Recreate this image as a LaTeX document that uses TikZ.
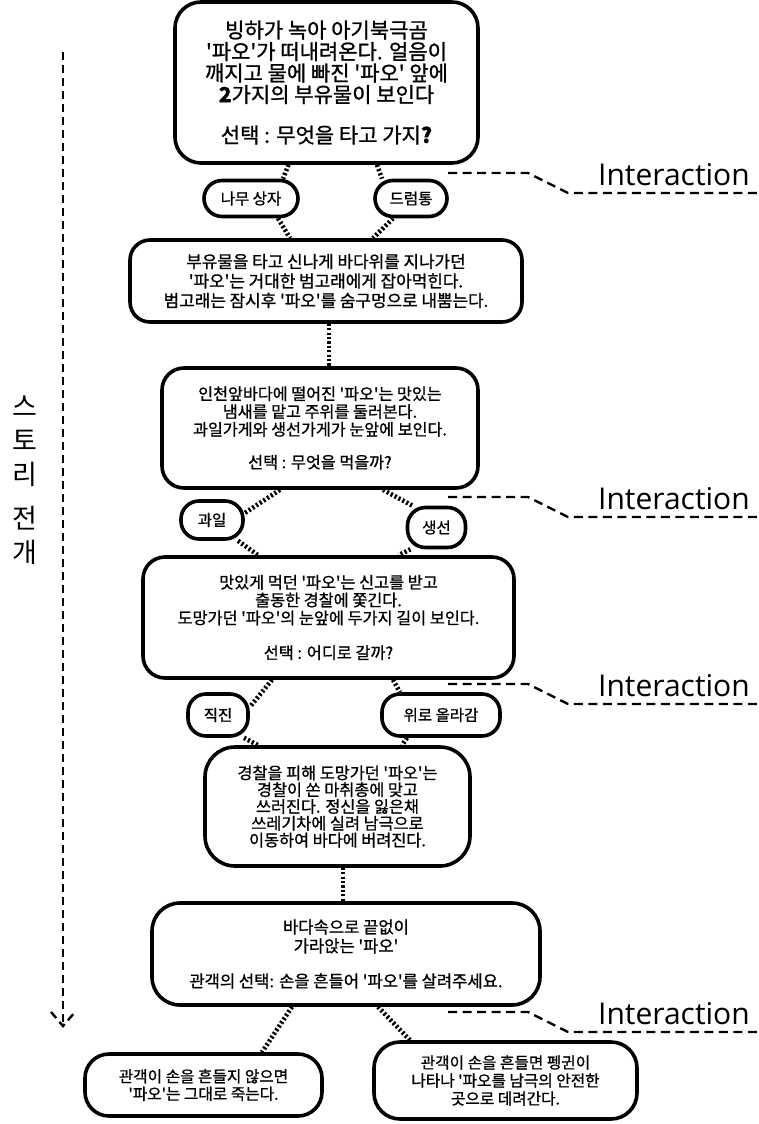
\documentclass[tikz,border=0pt]{standalone}
\usepackage{fontspec}
\newfontfamily\kr{Noto Sans CJK KR}[FakeBold=1]
\newfontfamily\lat{Open Sans}
\newfontfamily\krlight{Noto Sans CJK KR}
\pgfdeclarelayer{bg}
\pgfsetlayers{bg,main}
\tikzset{
  card/.style={draw, line width=3.6pt, fill=white, align=center, inner sep=0pt, rounded corners=#1},
  card/.default=22pt,
  sz/.style 2 args={minimum width=#1pt, minimum height=#2pt},
  pill/.style={draw, line width=3.6pt, fill=white, align=center, inner sep=0pt,
    rounded corners=18pt, font=\kr\fontsize{15.5}{18}\selectfont},
  link/.style={line width=4.6pt, dash pattern=on 2.2pt off 2.2pt},
  guide/.style={line width=2.4pt, dash pattern=on 9pt off 5.5pt},
  flow/.style={line width=2.4pt, dash pattern=on 8pt off 5pt},
  tag/.style={anchor=base west, inner sep=0pt, font=\lat\fontsize{30}{30}\selectfont},
}
\begin{document}
\begin{tikzpicture}[x=1pt,y=-1pt]
\useasboundingbox (0,0) rectangle (759,1124);

% story cards
\node[card=26pt, sz={303}{161}, font=\kr\fontsize{21}{21.5}\selectfont] (b1) at (326.5,82.5)
  {빙하가 녹아 아기북극곰\\'파오'가 떠내려온다. 얼음이\\깨지고 물에 빠진 '파오' 앞에\\{\bfseries 2}가지의 부유물이 보인다\\[19pt]선택 : 무엇을 타고 가지{\bfseries ?}};
\node[card=20pt, sz={392}{82}, font=\kr\fontsize{16.9}{19.5}\selectfont] (b2) at (326,281)
  {부유물을 타고 신나게 바다위를 지나가던\\'파오'는 거대한 범고래에게 잡아먹힌다.\\범고래는 잠시후 '파오'를 숨구멍으로 내뿜는다.};
\node[card=22pt, sz={316}{120}, font=\kr\fontsize{16.2}{17.8}\selectfont] (b3) at (320,428)
  {인천앞바다에 떨어진 '파오'는 맛있는\\냄새를 맡고 주위를 둘러본다.\\과일가게와 생선가게가 눈앞에 보인다.\\[15pt]선택 : 무엇을 먹을까?};
\node[card=22pt, sz={371}{121}, font=\kr\fontsize{16.3}{17.8}\selectfont] (b4) at (328.5,617.5)
  {맛있게 먹던 '파오'는 신고를 받고\\출동한 경찰에 쫓긴다.\\도망가던 '파오'의 눈앞에 두가지 길이 보인다.\\[17pt]선택 : 어디로 갈까?};
\node[card=30pt, sz={265}{119}, font=\kr\fontsize{16.3}{16.8}\selectfont] (b5) at (337.5,806.5)
  {경찰을 피해 도망가던 '파오'는\\경찰이 쏜 마취총에 맞고\\쓰러진다. 정신을 잃은채\\쓰레기차에 실려 남극으로\\이동하여 바다에 버려진다.};
\node[card=28pt, sz={388}{102}, font=\kr\fontsize{16.6}{19}\selectfont] (b6) at (346,954)
  {바다속으로 끝없이\\가라앉는 '파오'\\[16pt]관객의 선택: 손을 흔들어 '파오'를 살려주세요.};
\node[card=24pt, sz={237}{62}, font=\kr\fontsize{15.7}{17.5}\selectfont] (bl) at (203.5,1085)
  {관객이 손을 흔들지 않으면\\'파오'는 그대로 죽는다.};
\node[card=26pt, sz={263}{77}, font=\kr\fontsize{15.7}{18}\selectfont] (br) at (505.5,1080.5)
  {관객이 손을 흔들면 펭귄이\\나타나 '파오를 남극의 안전한\\곳으로 데려간다.};

% choices
\node[pill, sz={94}{36}] (o1) at (251,198.5) {나무 상자};
\node[pill, sz={72}{36}] (o2) at (411,198.5) {드럼통};
\node[pill, sz={62}{38}] (o3) at (212,520) {과일};
\node[pill, sz={58}{40}] (o4) at (436.5,527.5) {생선};
\node[pill, sz={60}{42}] (o5) at (218,715) {직진};
\node[pill, sz={118}{42}] (o6) at (441,715) {위로 올라감};

% page ground and dotted links, kept behind the cards
\begin{pgfonlayer}{bg}
\fill[white] (0,0) rectangle (759,1124);
\draw[link] ([xshift=-38pt]b1.south) -- ([xshift=32pt]o1.north);
\draw[link] ([xshift=27pt]o1.south) -- ([xshift=-36pt]b2.north);
\draw[link] ([xshift=50.5pt]b1.south) -- ([xshift=-29pt]o2.north);
\draw[link] ([xshift=-18pt]o2.south) -- ([xshift=47pt]b2.north);
\draw[link] ([xshift=3pt]b2.south) -- ([xshift=9pt]b3.north);
\draw[link] ([xshift=-40pt]b3.south) -- ([yshift=7pt]o3.east);
\draw[link] ([xshift=26pt]o3.south) -- ([xshift=-70.5pt]b4.north);
\draw[link] ([xshift=63pt]b3.south) -- ([xshift=-24pt]o4.north);
\draw[link] ([xshift=-26pt]o4.south) -- ([xshift=70pt]b4.north);
\draw[link] ([xshift=-56.5pt]b4.south) -- ([yshift=8pt]o5.east);
\draw[link] ([xshift=26pt]o5.south) -- ([xshift=-79.5pt]b5.north);
\draw[link] ([xshift=64.5pt]b4.south) -- ([xshift=-41pt]o6.north);
\draw[link] ([xshift=-34pt]o6.south) -- ([xshift=64.5pt]b5.north);
\draw[link] ([xshift=5.5pt]b5.south) -- ([xshift=-3pt]b6.north);
\draw[link] ([xshift=-54pt]b6.south) -- ([xshift=58.5pt]bl.north);
\draw[link] ([xshift=32pt]b6.south) -- ([xshift=-95.5pt]br.north);
\end{pgfonlayer}

% interaction markers
\foreach \u [count=\i] in {173,497,684,1012} {
  \draw[guide] (448,\u) -- (528,\u) -- (568,\u+20) -- (757,\u+20);
  \node[tag] (int\i) at (598,\u+12) {Interaction};
}

% story direction arrow
\draw[flow] (63,52) -- (63,1024);
\draw[flow] (51,1012) -- (63,1026) -- (75,1012);
\node[font=\krlight\fontsize{27}{34}\selectfont, align=center, inner sep=0pt] (story) at (25,480)
  {스\\토\\리\\[10pt]전\\개};
\end{tikzpicture}
\end{document}
